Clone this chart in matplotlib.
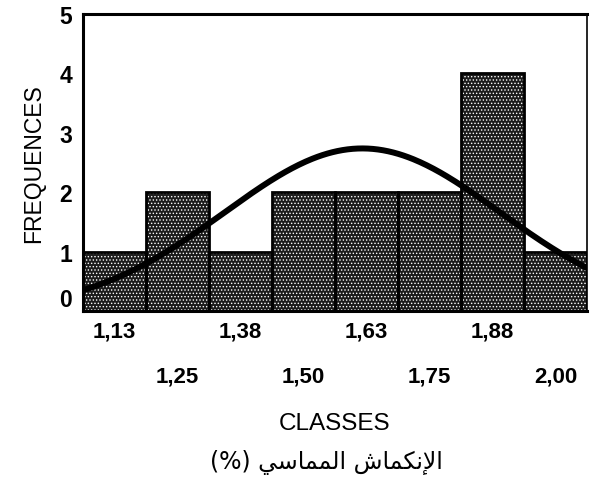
import numpy as np
import matplotlib
matplotlib.use("Agg")
import matplotlib.pyplot as plt

# ---- data ----
class_centers = [1.125, 1.25, 1.375, 1.50, 1.625, 1.75, 1.875, 2.00]
class_labels = ["1,13", "1,25", "1,38", "1,50", "1,63", "1,75", "1,88", "2,00"]
frequencies = [1, 2, 1, 2, 2, 2, 4, 1]
y_ticks = [0, 1, 2, 3, 4, 5]
bin_width = 0.125

x_label = "CLASSES"
y_label = "FREQUENCES"
# "الإنكماش المماسي (%)" in Arabic presentation forms, visual (left-to-right) order
arabic_caption = ("(%) "
                  "\uFEF2\uFEB3\uFE8E\uFEE4\uFEE4\uFEDF\uFE8D"
                  " "
                  "\uFEB5\uFE8E\uFEE4\uFEDC\uFEE7\uFEF9\uFE8D")

plt.rcParams['font.family'] = ['Liberation Sans', 'DejaVu Sans']
plt.rcParams['hatch.linewidth'] = 0.6

fig = plt.figure(figsize=(5.91, 4.89), dpi=100)
ax = fig.add_axes([83/591, 1 - 312/489, (587-83)/591, (312-15)/489])

# textured bars
ax.bar(class_centers, frequencies, width=bin_width, color='#1c1c1c',
       hatch='.....', edgecolor='white', linewidth=0, zorder=2)
ax.bar(class_centers, frequencies, width=bin_width, fill=False,
       edgecolor='black', linewidth=2.0, zorder=3)

# fitted normal curve from the grouped data
c = np.array(class_centers)
f = np.array(frequencies)
n = f.sum()
mu = (c * f).sum() / n
sd = np.sqrt(((c - mu) ** 2 * f).sum() / (n - 1))
xlo, xhi = c[0] - bin_width / 2, c[-1] + bin_width / 2
xs = np.linspace(xlo, xhi, 300)
ys = n * bin_width * np.exp(-0.5 * ((xs - mu) / sd) ** 2) / (sd * np.sqrt(2 * np.pi))
ax.plot(xs, ys, color='black', linewidth=4.3, solid_capstyle='butt', zorder=4)

ax.set_xlim(xlo, xhi)
ax.set_ylim(0, 5)
ax.set_yticks(y_ticks)
ax.set_yticklabels([str(v) for v in y_ticks], fontsize=16.5, fontweight='bold')
ax.set_xticks(class_centers)
ax.set_xticklabels(class_labels, fontsize=16, fontweight='bold')
ax.tick_params(length=0)
ax.tick_params(axis='y', pad=8)
ax.tick_params(axis='x', pad=7)
for i, lab in enumerate(ax.get_xticklabels()):
    if i % 2 == 1:
        lab.set_y(-45 / 297)
ax.get_yticklabels()[0].set_va('bottom')

for s in ['left', 'bottom', 'top']:
    ax.spines[s].set_linewidth(2.2)
ax.spines['right'].set_linewidth(1.2)

ax.set_ylabel(y_label, fontsize=16.5, labelpad=10)
fig.text(335/591, 1 - 424/489, x_label, fontsize=17.5, ha='center', va='center')
fig.text(326/591, 1 - 463/489, arabic_caption, fontsize=17, ha='center', va='center',
         family=['DejaVu Sans'])

fig.savefig('out.png', dpi=100)
